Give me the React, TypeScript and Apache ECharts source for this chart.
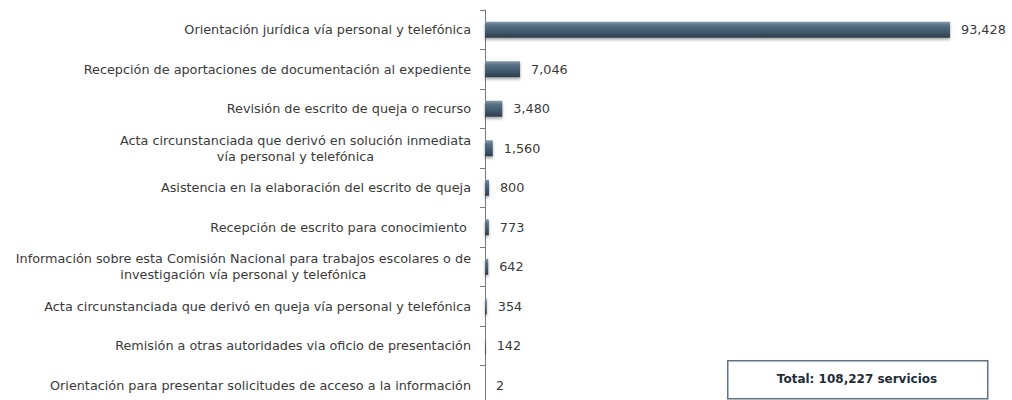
import React, { useEffect, useRef } from "react";
import * as echarts from "echarts";

const categories: string[] = [
  "Orientación jurídica vía personal y telefónica",
  "Recepción de aportaciones de documentación al expediente",
  "Revisión de escrito de queja o recurso",
  "Acta circunstanciada que derivó en solución inmediata\nvía personal y telefónica",
  "Asistencia en la elaboración del escrito de queja",
  "Recepción de escrito para conocimiento ",
  "Información sobre esta Comisión Nacional para trabajos escolares o de\ninvestigación vía personal y telefónica",
  "Acta circunstanciada que derivó en queja vía personal y telefónica",
  "Remisión a otras autoridades via oficio de presentación",
  "Orientación para presentar solicitudes de acceso a la información",
];

const values: number[] = [93428, 7046, 3480, 1560, 800, 773, 642, 354, 142, 2];

const totalLabel = "Total: 108,227 servicios";

const FONT = "DejaVu Sans, Verdana, sans-serif";

export default function App() {
  const ref = useRef<HTMLDivElement>(null);
  useEffect(() => {
    if (!ref.current) return;
    const chart = echarts.init(ref.current, null, { renderer: "svg" });
    const barGradient = new echarts.graphic.LinearGradient(0, 0, 0, 1, [
      { offset: 0, color: "#8499aa" },
      { offset: 0.25, color: "#566f82" },
      { offset: 0.7, color: "#3e5467" },
      { offset: 1, color: "#2b3c4b" },
    ]);
    chart.setOption({
      animation: false,
      backgroundColor: "#ffffff",
      grid: { left: 485, top: 10, width: 497.7, height: 395, containLabel: false },
      xAxis: {
        type: "value",
        min: 0,
        max: 100000,
        show: false,
      },
      yAxis: {
        type: "category",
        inverse: true,
        data: categories,
        axisLine: { show: true, lineStyle: { color: "#7a7a7a", width: 1 } },
        axisTick: { show: true, length: 5, lineStyle: { color: "#7a7a7a" } },
        axisLabel: {
          margin: 14,
          color: "#3a3a3a",
          fontFamily: FONT,
          fontSize: 12.8,
          lineHeight: 16,
          formatter: (v: string) =>
            v
              .split("\n")
              .map((l) => "{c|" + l + "}")
              .join("\n"),
          rich: {
            c: {
              align: "center",
              color: "#3a3a3a",
              fontFamily: FONT,
              fontSize: 12.8,
              lineHeight: 16,
            },
          },
        },
      },
      series: [
        {
          type: "bar",
          data: values,
          barWidth: 16,
          itemStyle: {
            color: barGradient,
            shadowColor: "rgba(0,0,0,0.35)",
            shadowBlur: 3,
            shadowOffsetY: 2,
          },
          label: {
            show: true,
            position: "right",
            distance: 11,
            color: "#3a3a3a",
            fontFamily: FONT,
            fontSize: 12.8,
            formatter: (p: any) => Number(p.value).toLocaleString("en-US"),
          },
        },
      ],
      graphic: [
        {
          type: "rect",
          left: 727,
          top: 360,
          shape: { width: 260, height: 38 },
          style: { fill: "#ffffff", stroke: "#5f7282", lineWidth: 1.5 },
        },
        {
          type: "text",
          x: 857,
          y: 379,
          style: {
            text: totalLabel,
            fill: "#1f2d3a",
            font: "bold 12px DejaVu Sans, Verdana, sans-serif",
            textAlign: "center",
            textVerticalAlign: "middle",
          },
        },
      ],
    });
    return () => chart.dispose();
  }, []);
  return (
    <div
      ref={ref}
      style={{ position: "absolute", left: 0, top: 0, width: 1012, height: 420 }}
    />
  );
}
